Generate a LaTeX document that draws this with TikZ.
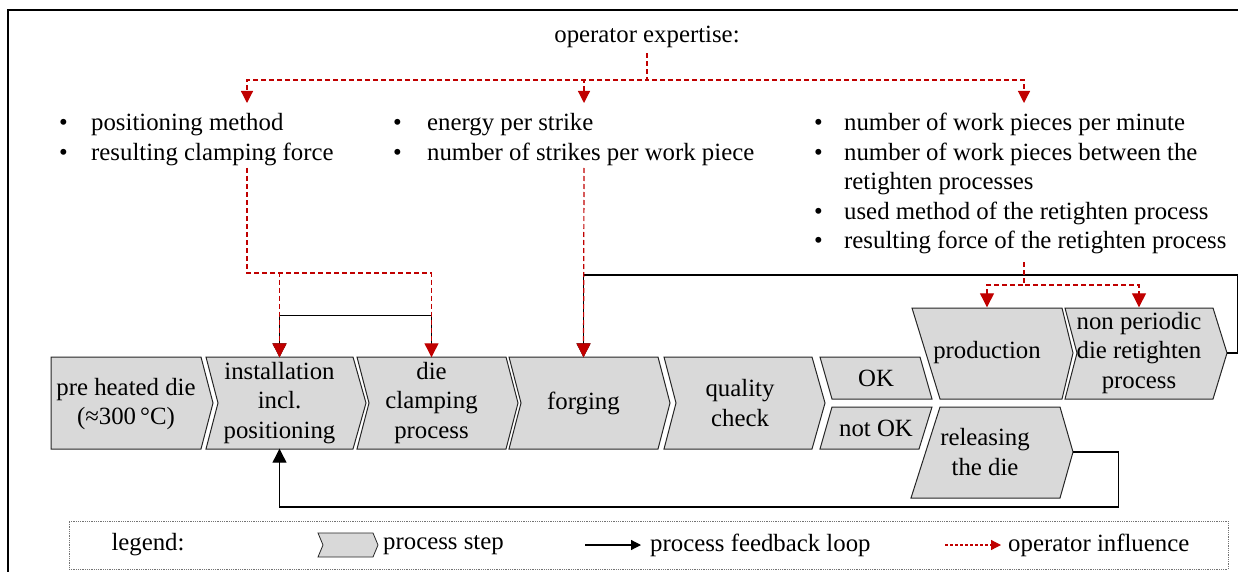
\documentclass[tikz,border=0pt]{standalone}
\usepackage{fontspec}
\setmainfont{Liberation Serif}
\usepackage{array}
\usetikzlibrary{arrows.meta}
\definecolor{opred}{HTML}{C00000}
\definecolor{stepgray}{HTML}{D9D9D9}

\begin{document}
\begin{tikzpicture}[x=1pt,y=-1pt,
font=\fontsize{24.8}{29.5}\selectfont,
stepbox/.style={draw=black!85, fill=stepgray, line width=1pt, line join=miter},
steptext/.style={align=center, inner sep=0pt, minimum height=91pt},
listtext/.style={anchor=base west, inner sep=0pt},
feedback/.style={draw=black, line width=1.2pt, -{Triangle[width=14pt,length=14pt]}},
influence/.style={draw=opred, line width=1.2pt, dash pattern=on 5pt off 3pt, -{Triangle[width=14pt,length=14pt]}},
toptip/.style={-{Triangle[width=12pt,length=12pt]}},
legendtext/.style={anchor=west, inner sep=0pt},
]
\useasboundingbox (0,0) rectangle (1238,572);
\draw[line width=1.5pt] (8,572) -- (8,10) -- (1238,10);

%Process steps
\draw[stepbox] (51,357) -- (201,357) -- (213,403) -- (201,449) -- (51,449) -- cycle;
\draw[stepbox] (206,357) -- (353,357) -- (366,403) -- (353,449) -- (206,449) -- (218,403) -- cycle;
\draw[stepbox] (357,357) -- (506,357) -- (518,403) -- (506,449) -- (357,449) -- (369,403) -- cycle;
\draw[stepbox] (509,357) -- (658,357) -- (670,403) -- (658,449) -- (509,449) -- (521,403) -- cycle;
\draw[stepbox] (664,357) -- (812,357) -- (825,403) -- (812,449) -- (664,449) -- (676,403) -- cycle;
\draw[stepbox] (820,357) -- (920,357) -- (932,399) -- (832,399) -- cycle;
\draw[stepbox] (832,407) -- (932,407) -- (919,449) -- (820,449) -- cycle;
\draw[stepbox] (912,308) -- (1062,308) -- (1073,353) -- (1062,399) -- (940,399) -- cycle;
\draw[stepbox] (940,407) -- (1060,407) -- (1073,452) -- (1060,498) -- (911,498) -- cycle;
\draw[stepbox] (1065,308) -- (1213,308) -- (1227,353) -- (1213,399) -- (1065,399) -- (1077,353) -- cycle;

%Step texts
\node[steptext, minimum width=150pt] (heat)    at (126,404)    {pre heated die\\(≈300\,°C)};
\node[steptext, minimum width=147pt] (inst)    at (279.5,403)  {installation\\incl.\\positioning};
\node[steptext, minimum width=149pt] (clamp)   at (431.5,403)  {die\\clamping\\process};
\node[steptext, minimum width=149pt] (forge)   at (583.5,403)  {forging};
\node[steptext, minimum width=148pt] (check)   at (740,403)    {quality\\check};
\node[steptext, minimum width=100pt, minimum height=42pt] (ok)    at (876,378) {OK};
\node[steptext, minimum width=100pt, minimum height=42pt] (notok) at (876,428) {not OK};
\node[steptext, minimum width=150pt] (prod)    at (987,353)    {production};
\node[steptext, minimum width=150pt] (release) at (985,452)    {releasing\\the die};
\node[steptext, minimum width=148pt] (retight) at (1139,353)   {non periodic\\die retighten\\process};

%Operator expertise
\node[inner sep=5pt] (expert) at (647,37) {operator expertise:};
\node[listtext] (poslist) at (59,131) {\begin{tabular}[t]{@{}p{32pt}@{}l@{}}
\textbullet & positioning method\\
\textbullet & resulting clamping force
\end{tabular}};
\node[listtext] (forgelist) at (393,131) {\begin{tabular}[t]{@{}p{34pt}@{}l@{}}
\textbullet & energy per strike\\
\textbullet & number of strikes per work piece
\end{tabular}};
\node[listtext] (prodlist) at (814,131) {\begin{tabular}[t]{@{}p{30pt}@{}l@{}}
\textbullet & number of work pieces per minute\\
\textbullet & number of work pieces between the\\
 & retighten processes\\
\textbullet & used method of the retighten process\\
\textbullet & resulting force of the retighten process
\end{tabular}};

\coordinate (split)     at (647,80);
\coordinate (posto)     at (247,103);
\coordinate (forgeto)   at (584,103);
\coordinate (prodto)    at (1024,103);
\coordinate (posfrom)   at (247,168);
\coordinate (forgefrom) at (584,168);
\coordinate (prodfrom)  at (1024,262);

%Feedback loops
\draw[feedback] (clamp.north) -- ++(0,-42) -| (inst.north);
\draw[feedback] ([xshift=14pt]retight.east) -- ++(10,0) -- ++(0,-78) -| (forge.north);
\draw[feedback] ([xshift=13pt]release.east) -- ++(45,0) -- ++(0,55) -| (inst.south);

%Operator influence
\draw[influence, toptip] (expert.south) -- (split) -| (posto);
\draw[influence, toptip] (expert.south) -- (split) -| (forgeto);
\draw[influence, toptip] (expert.south) -- (split) -| (prodto);
\draw[influence] (posfrom) -- ++(0,105) -| (inst.north);
\draw[influence] (posfrom) -- ++(0,105) -| (clamp.north);
\draw[influence] (forgefrom) -- (forge.north);
\draw[influence] (prodfrom) -- ++(0,23) -| (prod.north);
\draw[influence] (prodfrom) -- ++(0,23) -| (retight.north);

%Legend
\node[draw=black!55, densely dotted, line width=0.8pt, minimum width=1159pt, minimum height=48pt, inner sep=0pt] (legend) at (648.5,545) {};
\node (legendlabel) at (148,545) {legend:};
\draw[stepbox, line width=0.8pt] (318,533) -- (373,533) -- (378,545) -- (373,557) -- (318,557) -- (323,545) -- cycle;
\node[legendtext] (steplabel) at (383,545) {process step};
\coordinate (fbstart) at (585,545);
\coordinate (fbend)   at (641,545);
\draw[feedback, -{Triangle[width=10pt,length=10pt]}] (fbstart) -- (fbend);
\node[legendtext] (fblabel) at (650,545) {process feedback loop};
\coordinate (opstart) at (945,545);
\coordinate (opend)   at (1001,545);
\draw[influence, dash pattern=on 3pt off 2pt, -{Triangle[width=10pt,length=10pt]}] (opstart) -- (opend);
\node[legendtext] (oplabel) at (1008,545) {operator influence};
\end{tikzpicture}
\end{document}
